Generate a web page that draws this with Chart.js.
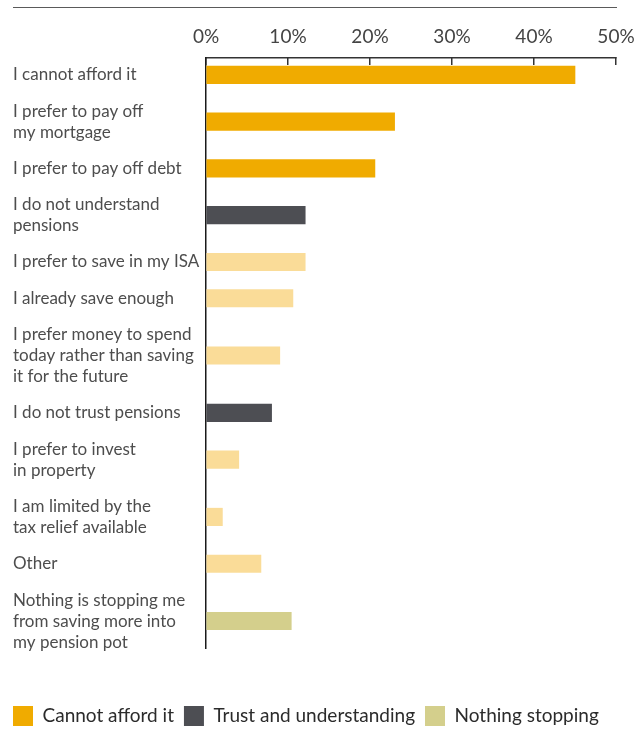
<!DOCTYPE html>
<html>
<head>
<meta charset="utf-8">
<title>What stops people saving more into a pension</title>
<script src="https://cdn.jsdelivr.net/npm/chart.js@4.4.1/dist/chart.umd.min.js"></script>
<style>
  html, body { margin: 0; padding: 0; background: #ffffff; }
  #barrierChart { display: block; }
</style>
</head>
<body>
<canvas id="barrierChart" width="636" height="730"></canvas>
<script>
// Survey answers, one entry per row (each label split into its printed lines)
const answerLabels = [
  ['I cannot afford it'],
  ['I prefer to pay off', 'my mortgage'],
  ['I prefer to pay off debt'],
  ['I do not understand', 'pensions'],
  ['I prefer to save in my ISA'],
  ['I already save enough'],
  ['I prefer money to spend', 'today rather than saving', 'it for the future'],
  ['I do not trust pensions'],
  ['I prefer to invest', 'in property'],
  ['I am limited by the', 'tax relief available'],
  ['Other'],
  ['Nothing is stopping me', 'from saving more into', 'my pension pot']
];

// Share of respondents (%)
const answerShares = [45, 23, 20.6, 12.1, 12.1, 10.6, 9, 8, 4, 2, 6.7, 10.4];

// Which group each answer belongs to
const answerGroups = [
  'afford', 'afford', 'afford', 'trust', 'other', 'other',
  'other', 'trust', 'other', 'other', 'other', 'nothing'
];

// Groups in drawing order, with the names shown in the key
const groupKeys = ['afford', 'trust', 'other', 'nothing'];
const groupNames = ['Cannot afford it', 'Trust and understanding', 'Other reasons', 'Nothing stopping'];
const legendNames = ['Cannot afford it', 'Trust and understanding', 'Nothing stopping'];

// x axis ticks
const shareTicks = [0, 10, 20, 30, 40, 50];

const groupColors = {
  afford: '#F0AB00',
  trust: '#4D4E53',
  other: '#FADC98',
  nothing: '#D4CF8C'
};

// Rows are spaced by how many text lines their label has,
// so the y scale runs in "label line" units
const firstLine = 0.8;
const blockStep = 1.72;
const rowCenters = [];
let cursor = firstLine;
answerLabels.forEach(lines => {
  rowCenters.push(cursor + (lines.length - 1) / 2);
  cursor += lines.length - 1 + blockStep;
});

// Thin rule across the top of the figure
const topRule = {
  id: 'topRule',
  afterDraw(chart) {
    const ctx = chart.ctx;
    ctx.save();
    ctx.strokeStyle = '#5a5a5a';
    ctx.lineWidth = 1.2;
    ctx.beginPath();
    ctx.moveTo(13, 7.5);
    ctx.lineTo(617, 7.5);
    ctx.stroke();
    ctx.restore();
  }
};

function buildDatasets() {
  return groupKeys.map((key, g) => {
    const points = [];
    answerGroups.forEach((group, i) => {
      if (group === key) {
        points.push({ x: answerShares[i], y: rowCenters[i] });
      }
    });
    return {
      label: groupNames[g],
      data: points,
      backgroundColor: groupColors[key],
      borderWidth: 0,
      barThickness: 17.5,
      grouped: false
    };
  });
}

const labelFont = { family: 'Lato', size: 17, lineHeight: '21px' };

new Chart(document.getElementById('barrierChart'), {
  type: 'bar',
  data: { datasets: buildDatasets() },
  plugins: [topRule],
  options: {
    indexAxis: 'y',
    responsive: false,
    animation: false,
    layout: {
      padding: { top: 10, left: 3, right: 0, bottom: -6 }
    },
    plugins: {
      tooltip: { enabled: false },
      legend: {
        position: 'bottom',
        align: 'start',
        // empty title used as spacing between the plot and the key
        title: {
          display: true,
          text: '',
          font: { size: 8, lineHeight: 1 },
          padding: { top: 40, bottom: 0 }
        },
        labels: {
          boxWidth: 20,
          boxHeight: 20,
          padding: 10,
          color: '#2b2b2b',
          font: { family: 'Lato', size: 19 },
          filter: item => legendNames.includes(item.text)
        }
      }
    },
    scales: {
      x: {
        type: 'linear',
        position: 'top',
        min: 0,
        max: 50,
        afterBuildTicks: scale => {
          scale.ticks = shareTicks.map(v => ({ value: v }));
        },
        afterFit: scale => {
          scale.height = 48;
          // room on the right for the last tick label
          scale.paddingLeft = 0;
          scale.paddingRight = 20;
        },
        grid: {
          drawOnChartArea: false,
          drawTicks: true,
          tickLength: -7,
          color: '#333333',
          lineWidth: 1.5
        },
        border: { display: true, color: '#333333', width: 1.5 },
        ticks: {
          padding: 17,
          color: '#444444',
          font: { family: 'Lato', size: 19 },
          callback: v => v + '%'
        }
      },
      y: {
        type: 'linear',
        reverse: true,
        offset: false,
        min: 0,
        max: 28,
        z: 1,
        afterBuildTicks: scale => {
          scale.ticks = rowCenters.map(v => ({ value: v }));
        },
        afterFit: scale => { scale.width = 203; },
        grid: { display: false, drawTicks: false },
        border: { display: true, color: '#1a1a1a', width: 1.5 },
        ticks: {
          autoSkip: false,
          mirror: true,
          crossAlign: 'near',
          padding: -193,
          color: '#4d4d4d',
          font: labelFont,
          callback: (value, index) => answerLabels[index]
        }
      }
    }
  }
});
</script>
</body>
</html>
